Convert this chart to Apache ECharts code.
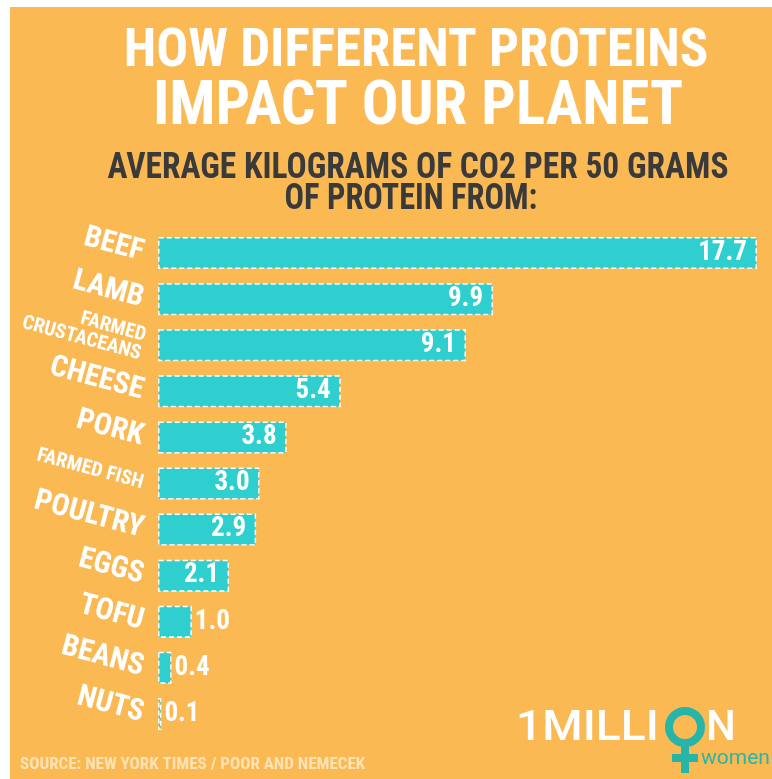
<!DOCTYPE html>
<html><head><meta charset="utf-8">
<script src="https://cdn.jsdelivr.net/npm/echarts@6/dist/echarts.min.js"></script>
<style>html,body{margin:0;padding:0;background:#fff}#c{width:772px;height:779px}</style>
</head><body><div id="c"></div>
<script>
const categories = ['BEEF','LAMB','FARMED\nCRUSTACEANS','CHEESE','PORK','FARMED FISH','POULTRY','EGGS','TOFU','BEANS','NUTS'];
const values = [17.7, 9.9, 9.1, 5.4, 3.8, 3.0, 2.9, 2.1, 1.0, 0.4, 0.1];
const titleLines = ['HOW DIFFERENT PROTEINS', 'IMPACT OUR PLANET'];
const subtitleLines = ['AVERAGE KILOGRAMS OF CO2 PER 50 GRAMS', 'OF PROTEIN FROM:'];
const sourceText = 'SOURCE: NEW YORK TIMES / POOR AND NEMECEK';

const FONT = '"Roboto Condensed","Open Sans Condensed",sans-serif';
const ORANGE = '#FBB954';
const TEAL = '#2FCFCF';
const LOGO = '#27B5AA';
const smallCats = ['FARMED\nCRUSTACEANS','FARMED FISH'];

const chart = echarts.init(document.getElementById('c'));
chart.setOption({
  backgroundColor: '#ffffff',
  animation: false,
  graphic: [
    {type:'rect', left:10, top:7, shape:{width:762, height:772}, style:{fill:ORANGE}, z:-10},
    {type:'text', x:416, y:53, style:{text:titleLines[0], fill:'#fff', font:'bold 53px '+FONT, align:'center', verticalAlign:'middle'}},
    {type:'text', x:418, y:109, style:{text:titleLines[1], fill:'#fff', font:'bold 61px '+FONT, align:'center', verticalAlign:'middle'}},
    {type:'text', x:418, y:169, scaleX:0.93, style:{text:subtitleLines[0], fill:'#3a3a3a', font:'bold 36px '+FONT, align:'center', verticalAlign:'middle'}},
    {type:'text', x:411, y:200, scaleX:0.9, style:{text:subtitleLines[1], fill:'#3a3a3a', font:'bold 36px '+FONT, align:'center', verticalAlign:'middle'}},
    {type:'text', x:20, y:765, style:{text:sourceText, fill:'#FDE3B4', font:'bold 17px '+FONT, align:'left', verticalAlign:'middle'}},
    {type:'text', x:516, y:729, scaleX:1.1, style:{text:'1MILLI', fill:'#fff', font:'500 42px Roboto,sans-serif', align:'left', verticalAlign:'middle'}},
    {type:'circle', shape:{cx:685, cy:727, r:16}, style:{fill:'none', stroke:LOGO, lineWidth:8}},
    {type:'rect', shape:{x:681, y:746, width:8, height:27}, style:{fill:LOGO}},
    {type:'rect', shape:{x:672, y:754, width:26, height:8}, style:{fill:LOGO}},
    {type:'text', x:706, y:729, style:{text:'N', fill:'#fff', font:'500 42px Roboto,sans-serif', align:'left', verticalAlign:'middle'}},
    {type:'text', x:701, y:759, style:{text:'women', fill:LOGO, font:'21px Roboto,sans-serif', align:'left', verticalAlign:'middle'}}
  ],
  grid: {left:158, right:15, top:230, bottom:42, containLabel:false},
  xAxis: {type:'value', min:0, max:17.7, show:false},
  yAxis: {
    type:'category', data:categories, inverse:true,
    axisLine:{show:false}, axisTick:{show:false}, splitLine:{show:false},
    axisLabel:{
      rotate:-15, margin:15, color:'#fff', fontFamily:FONT, fontWeight:'bold', fontSize:30,
      formatter: function(v){ return smallCats.indexOf(v) >= 0 ? '{s|' + v.replace('\n','}\n{s|') + '}' : v; },
      rich:{ s:{fontSize:20, lineHeight:19, color:'#fff', fontFamily:FONT, fontWeight:'bold'} }
    }
  },
  series: [{
    type:'bar', data: values.map(function(v){ return v < 1.5 ? {value:v, label:{position:'right', distance:3}} : v; }),
    barWidth:32,
    itemStyle:{color:TEAL, borderColor:'#fff', borderWidth:1.5, borderType:[5,3]},
    label:{show:true, position:'insideRight', distance:10, color:'#fff', fontFamily:FONT, fontWeight:'bold', fontSize:27,
      formatter: function(p){ return p.value.toFixed(1); }}
  }]
});
</script></body></html>
